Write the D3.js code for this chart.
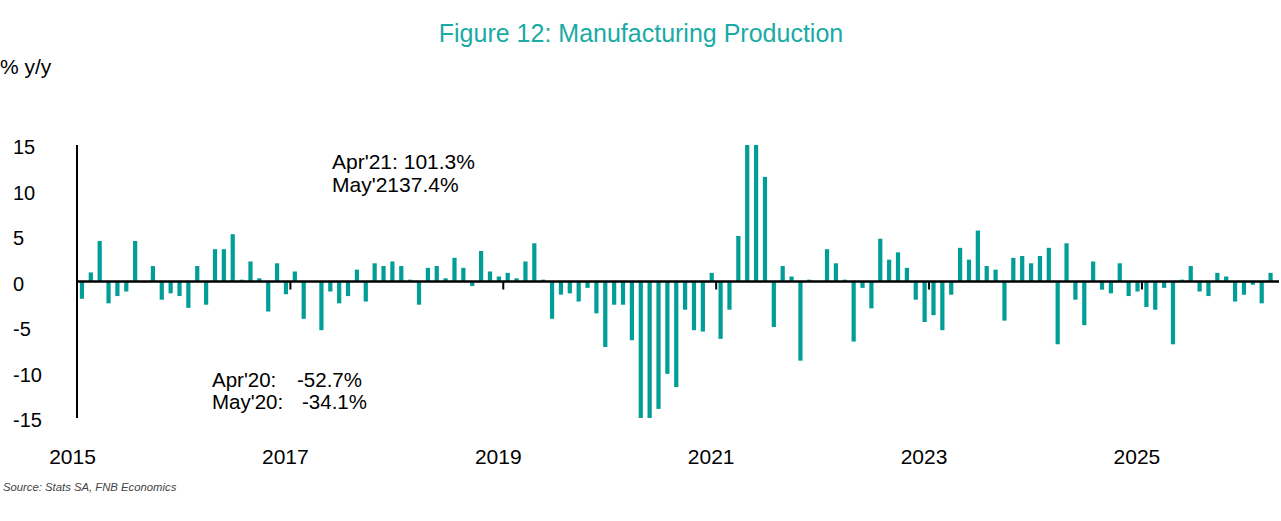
<!DOCTYPE html>
<html>
<head>
<meta charset="utf-8">
<script src="https://cdn.jsdelivr.net/npm/d3@7"></script>
<style>
  html, body { margin: 0; padding: 0; background: #fff; }
  svg { display: block; font-family: Arial, "Liberation Sans", Helvetica, sans-serif; }
</style>
</head>
<body>
<svg id="chart" width="1281" height="521"></svg>
<script>
// ---- Data (monthly % y/y, Jan 2015 – Mar 2026) ----
const startYear = 2015;
const values = [
  // 2015
  -1.9, 1.0, 4.45, -2.4, -1.6, -1.1, 4.45, -0.1, 1.7, -2.0, -1.3, -1.6,
  // 2016
  -2.9, 1.7, -2.55, 3.55, 3.55, 5.2, 0.2, 2.2, 0.35, -3.3, 2.0, -1.4,
  // 2017
  1.1, -4.1, 0.0, -5.35, -1.1, -2.4, -1.6, 1.3, -2.2, 2.0, 1.7, 2.2,
  // 2018
  1.7, 0.2, -2.55, 1.5, 1.7, 0.35, 2.6, 1.5, -0.5, 3.35, 1.1, 0.55,
  // 2019
  0.95, 0.35, 2.2, 4.2, 0.2, -4.1, -1.45, -1.3, -2.2, -0.7, -3.5, -7.2,
  // 2020
  -2.55, -2.55, -6.45, -52.7, -34.1, -14.0, -10.15, -11.6, -3.1, -5.35, -5.5, 0.95,
  // 2021
  -6.3, -3.1, 5.0, 101.3, 37.4, 11.5, -5.0, 1.7, 0.55, -8.7, 0.2, 0.05,
  // 2022
  3.55, 2.0, 0.2, -6.6, -0.7, -2.95, 4.7, 2.4, 3.2, 1.5, -2.0, -4.45,
  // 2023
  -3.7, -5.35, -1.45, 3.7, 2.4, 5.6, 1.7, 1.3, -4.3, 2.6, 2.8, 2.0,
  // 2024
  2.8, 3.7, -6.9, 4.2, -2.0, -4.8, 2.2, -0.9, -1.3, 2.0, -1.6, -1.1,
  // 2025
  -2.8, -3.1, -0.7, -6.9, 0.2, 1.7, -1.1, -1.6, 0.95, 0.55, -2.2, -1.45,
  // 2026
  -0.35, -2.4, 0.95
];
const monthNames = ["Jan","Feb","Mar","Apr","May","Jun","Jul","Aug","Sep","Oct","Nov","Dec"];
const months = values.map((v, i) => monthNames[i % 12] + " " + (startYear + Math.floor(i / 12)));
const yTicks = [15, 10, 5, 0, -5, -10, -15];
const xTickYears = [2015, 2017, 2019, 2021, 2023, 2025];

const title = "Figure 12: Manufacturing Production";
const unitLabel = "% y/y";
const sourceText = "Source: Stats SA, FNB Economics";
const noteTop = ["Apr'21: 101.3%", "May'2137.4%"];
const noteBottomLabels = ["Apr'20:", "May'20:"];
const noteBottomValues = ["-52.7%", "-34.1%"];

// ---- Layout ----
const svg = d3.select("#chart");
const teal = "#009E97";
const titleTeal = "#1AABA6";

const x = d3.scaleBand().domain(months).range([77.5, 1275]).paddingInner(0).paddingOuter(0);
const y = d3.scaleLinear().domain([-15, 15]).range([418, 145]).clamp(true);

// Title
svg.append("text")
  .attr("x", 641).attr("y", 42)
  .attr("text-anchor", "middle")
  .attr("font-size", 25)
  .attr("fill", titleTeal)
  .text(title);

// Unit label
svg.append("text")
  .attr("x", 0).attr("y", 74)
  .attr("font-size", 21)
  .attr("fill", "#000")
  .text(unitLabel);

// Bars
const barW = 4.2;
svg.append("g").selectAll("rect")
  .data(values)
  .join("rect")
  .attr("x", (d, i) => x(months[i]) + (x.bandwidth() - barW) / 2)
  .attr("width", barW)
  .attr("y", d => Math.min(y(d), y(0)))
  .attr("height", d => Math.abs(y(d) - y(0)))
  .attr("fill", teal);

// Y axis line
svg.append("line")
  .attr("x1", 77).attr("x2", 77)
  .attr("y1", y(15)).attr("y2", y(-15))
  .attr("stroke", "#000").attr("stroke-width", 2);

// Zero line
svg.append("line")
  .attr("x1", 77).attr("x2", 1279)
  .attr("y1", y(0)).attr("y2", y(0))
  .attr("stroke", "#000").attr("stroke-width", 2.6);

// X ticks
const tickG = svg.append("g");
xTickYears.slice(1).forEach(yr => {
  const xx = x("Jan " + yr);
  tickG.append("line")
    .attr("x1", xx).attr("x2", xx)
    .attr("y1", y(0)).attr("y2", y(0) + 8)
    .attr("stroke", "#000").attr("stroke-width", 2);
});

// X labels
svg.append("g").selectAll("text")
  .data(xTickYears)
  .join("text")
  .attr("x", d => x("Jan " + d) - 5)
  .attr("y", 464)
  .attr("text-anchor", "middle")
  .attr("font-size", 21)
  .attr("fill", "#000")
  .text(d => d);

// Y labels
svg.append("g").selectAll("text")
  .data(yTicks)
  .join("text")
  .attr("x", 13)
  .attr("y", d => y(d) + 9)
  .attr("font-size", 20)
  .attr("fill", "#000")
  .text(d => d);

// Annotations
svg.append("g").selectAll("text")
  .data(noteTop)
  .join("text")
  .attr("x", 332)
  .attr("y", (d, i) => 169 + i * 23)
  .attr("font-size", 21)
  .attr("fill", "#000")
  .text(d => d);

svg.append("g").selectAll("text")
  .data(noteBottomLabels)
  .join("text")
  .attr("x", 212)
  .attr("y", (d, i) => 387 + i * 22)
  .attr("font-size", 20.5)
  .attr("fill", "#000")
  .text(d => d);

svg.append("g").selectAll("text")
  .data(noteBottomValues)
  .join("text")
  .attr("x", (d, i) => i === 0 ? 297 : 302)
  .attr("y", (d, i) => 387 + i * 22)
  .attr("font-size", 20.5)
  .attr("fill", "#000")
  .text(d => d);

// Source
svg.append("text")
  .attr("x", 3).attr("y", 491)
  .attr("font-size", 11.3)
  .attr("font-style", "italic")
  .attr("fill", "#444")
  .text(sourceText);
</script>
</body>
</html>
